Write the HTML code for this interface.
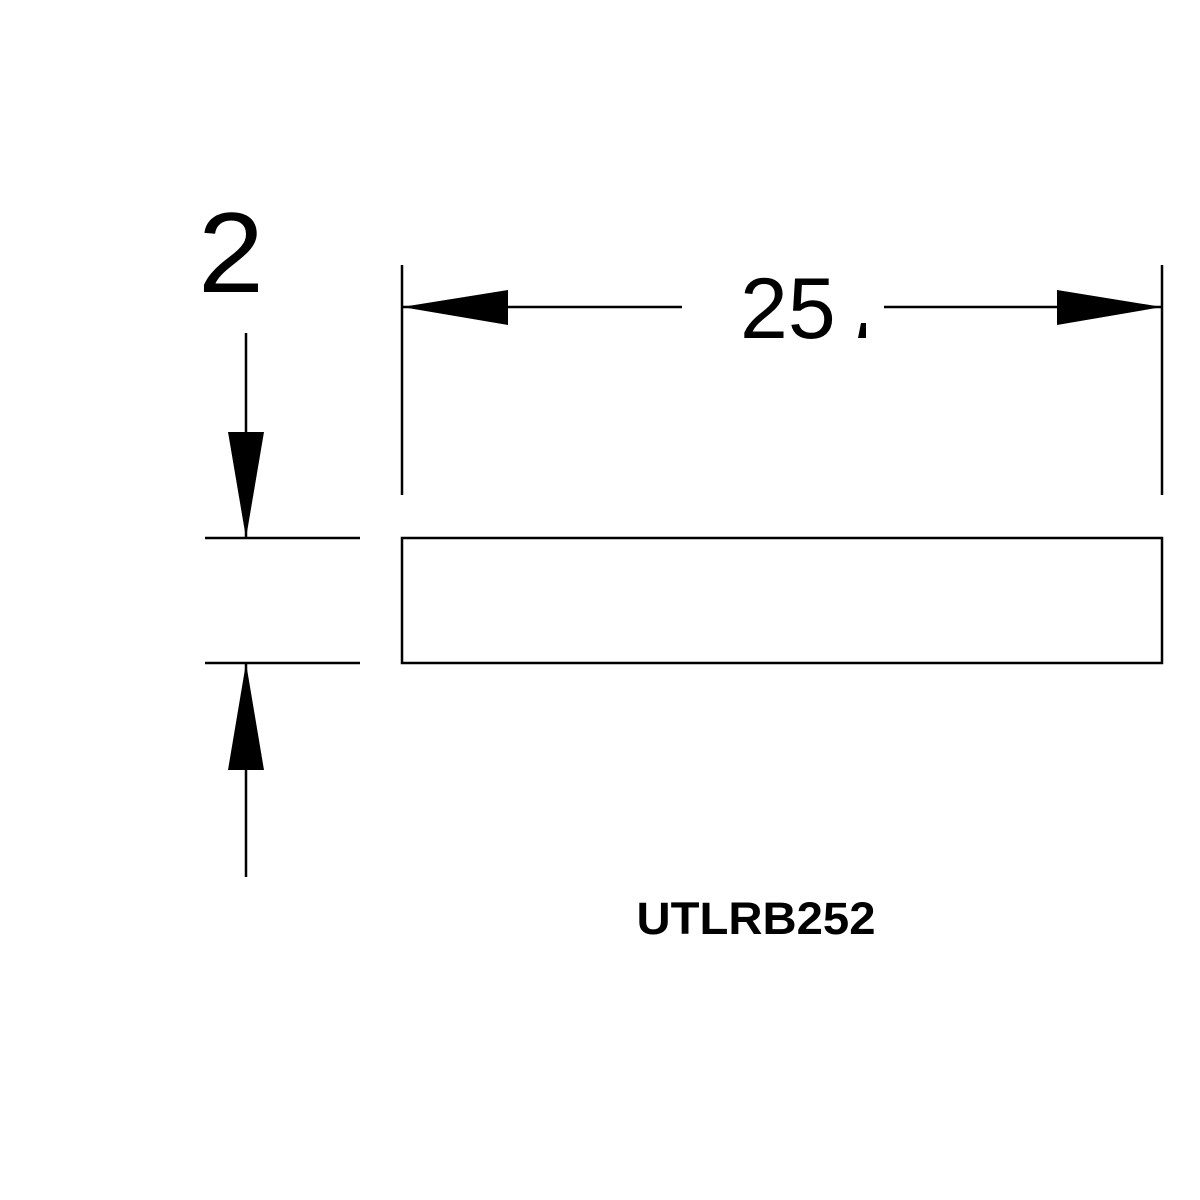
<!DOCTYPE html>
<html><head><style>
body{margin:0;background:#fff;}
svg{display:block}
</style></head><body>
<svg width="1200" height="1200" viewBox="0 0 1200 1200" xmlns="http://www.w3.org/2000/svg">
<rect width="1200" height="1200" fill="#fff"/>
<g stroke="#000" stroke-width="2.5" fill="none">
<line x1="402" y1="265" x2="402" y2="495"/>
<line x1="1162" y1="265" x2="1162" y2="495"/>
<line x1="402" y1="307" x2="682" y2="307"/>
<line x1="884" y1="307" x2="1162" y2="307"/>
<rect x="402" y="538" width="760" height="125"/>
<line x1="205" y1="538" x2="360" y2="538"/>
<line x1="205" y1="663" x2="360" y2="663"/>
<line x1="246" y1="333" x2="246" y2="538"/>
<line x1="246" y1="663" x2="246" y2="877"/>
</g>
<g fill="#000">
<polygon points="402,307 508,290 508,325"/>
<polygon points="1162,307 1057,290 1057,325"/>
<polygon points="246,538 228,432 264,432"/>
<polygon points="246,663 228,770 264,770"/>
<polygon points="861,323 866,323 866,338 858,338"/>
</g>
<text x="740" y="338" font-family="Liberation Sans, sans-serif" font-size="86" fill="#000">25</text>
<text x="202" y="292" font-family="Liberation Sans, sans-serif" font-size="114" fill="#000" transform="translate(-4,0) scale(1.04,1)" transform-origin="202 292">2</text>
<text x="756" y="934" text-anchor="middle" font-family="Liberation Sans, sans-serif" font-weight="bold" font-size="45" fill="#000" textLength="239" lengthAdjust="spacingAndGlyphs">UTLRB252</text>
</svg>
</body></html>
